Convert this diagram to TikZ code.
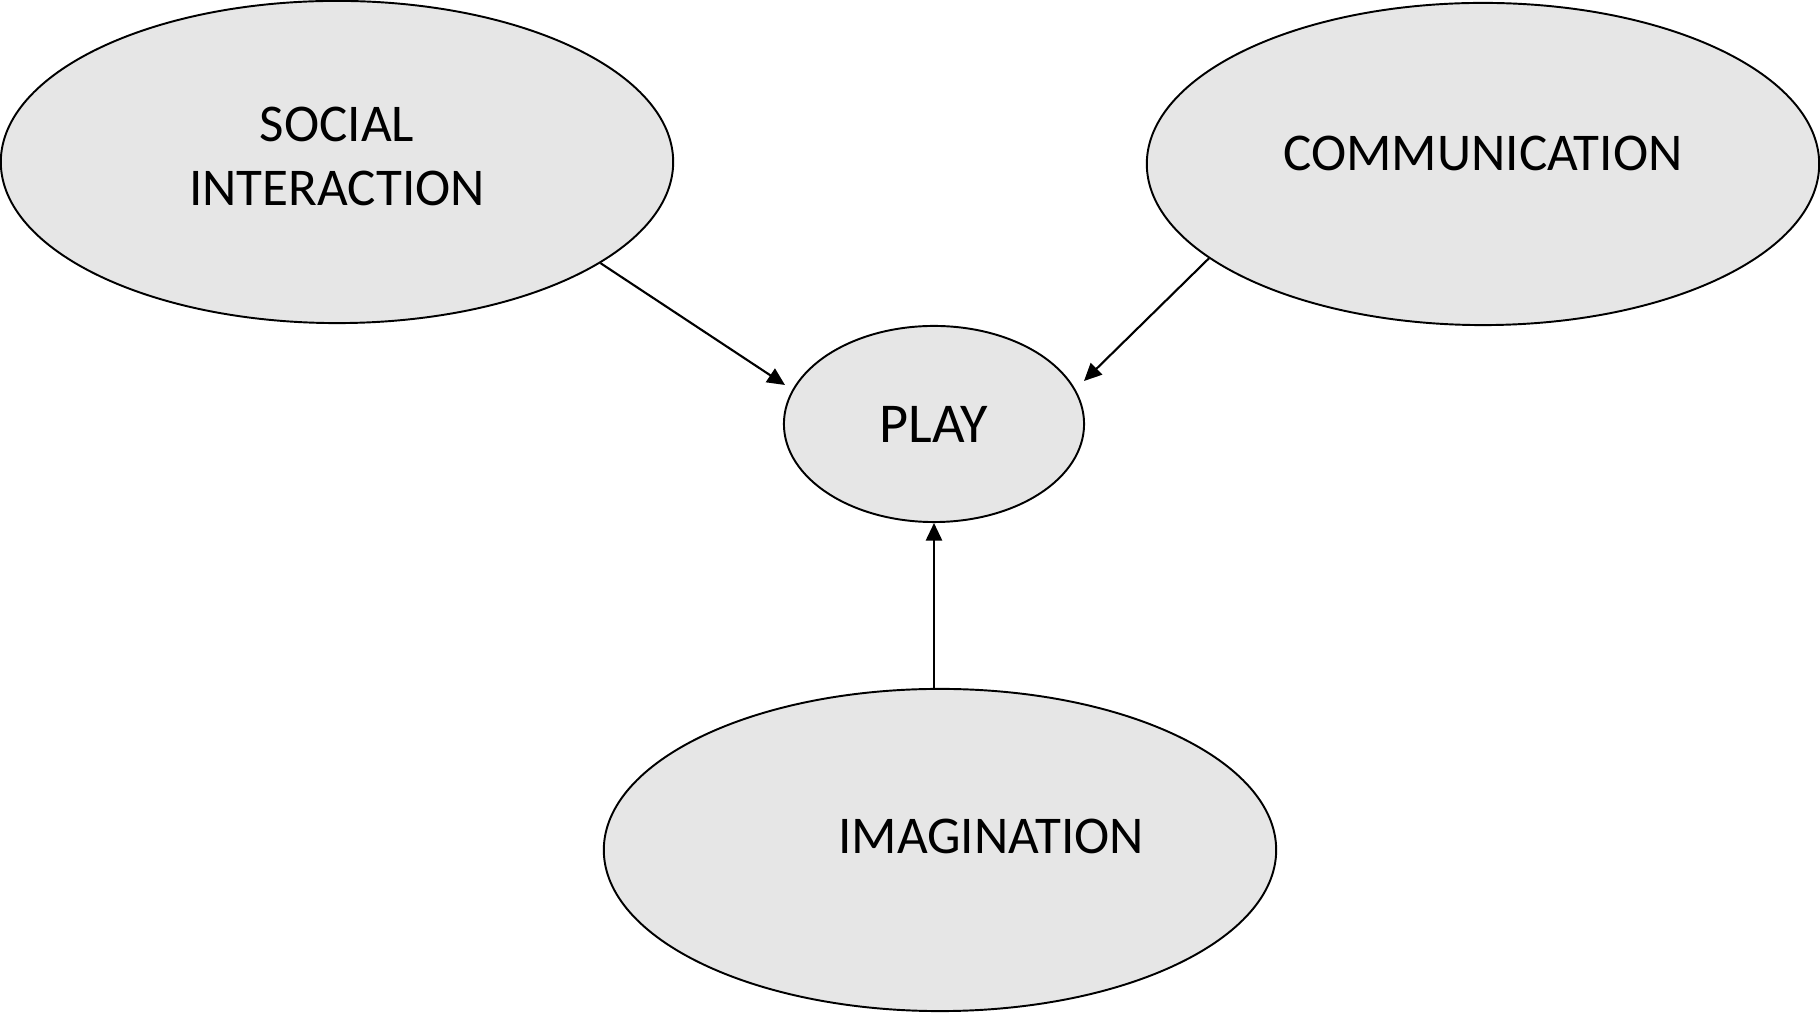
\documentclass[tikz,border=0pt]{standalone}
\usepackage{fontspec}
\setmainfont{Carlito}
\usetikzlibrary{arrows.meta,shapes.geometric}

\definecolor{bubblegray}{HTML}{E6E6E6}

\begin{document}
\begin{tikzpicture}[x=0.01cm,y=-0.01cm,
	big node/.style={ellipse,draw,line width=0.55pt,fill=bubblegray,inner sep=0pt,minimum width=6.72cm,minimum height=3.22cm},
	play node/.style={ellipse,draw,line width=0.55pt,fill=bubblegray,inner sep=0pt,minimum width=3cm,minimum height=1.96cm,font=\fontsize{16}{19}\selectfont},
	text node/.style={align=center,inner sep=0pt,font=\fontsize{15.1}{18.2}\selectfont},
	link/.style={-{Triangle[length=5pt,width=4.6pt]},line width=0.6pt}
]
	\useasboundingbox (0,0) rectangle (1820,1016);

	% the three sources
	\node[big node] (social) at (337,162) {};
	\node[big node] (comm) at (1483,164) {};
	\node[big node] (imag) at (940,850) {};
	\node[play node] (play) at (934,424) {PLAY};

	\node[text node] (socialtext) at (337,156) {SOCIAL\\INTERACTION};
	\node[text node] (commtext) at (1483,153) {COMMUNICATION};
	\node[text node] (imagtext) at (991,836) {IMAGINATION};

	% arrow tips stop just short of play
	\coordinate (socialtip) at (785,385);
	\coordinate (commtip) at (1084,381);

	% arrows into play
	\draw[link] (social.-21.5) -- (socialtip);
	\draw[link] (comm.199.1) -- (commtip);
	\draw[link] (play.south |- imag.north) -- (play.south);
\end{tikzpicture}
\end{document}
